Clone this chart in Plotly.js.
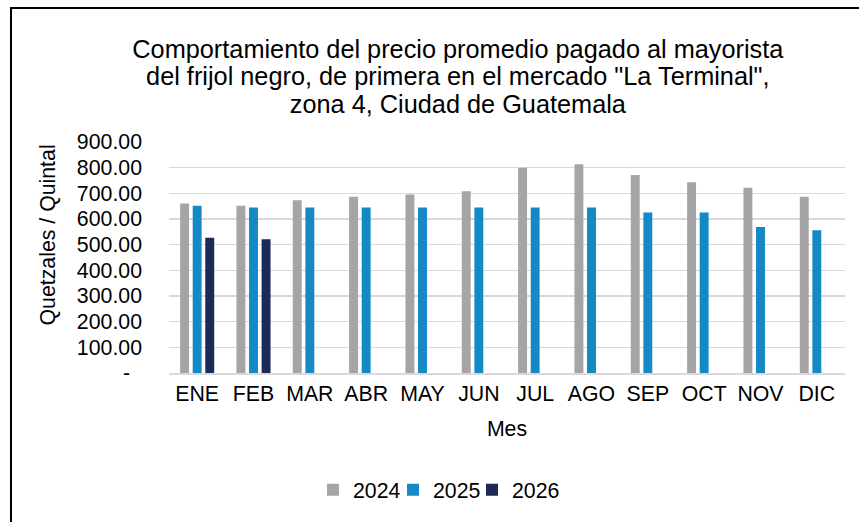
<!DOCTYPE html>
<html>
<head>
<meta charset="utf-8">
<script src="https://cdn.plot.ly/plotly-3.0.1.min.js"></script>
<style>
  html, body { margin: 0; padding: 0; background: #fff; }
  #wrap { position: relative; width: 859px; height: 522px; }
  #chart { width: 859px; height: 522px; }
  #frame { position: absolute; left: 10px; top: 7px; width: 860px; height: 530px;
           border-left: 2px solid #000; border-top: 2px solid #000; pointer-events: none; }
</style>
</head>
<body>
<div id="wrap">
  <div id="chart"></div>
  <div id="frame"></div>
</div>
<script>
const months = ["ENE","FEB","MAR","ABR","MAY","JUN","JUL","AGO","SEP","OCT","NOV","DIC"];
const v2024 = [660, 652, 673, 687, 695, 708, 800, 813, 771, 743, 722, 687];
const v2025 = [652, 645, 645, 645, 645, 645, 645, 645, 625, 625, 569, 556];
const v2026 = [527, 521, null, null, null, null, null, null, null, null, null, null];
const yTickVals = [0,100,200,300,400,500,600,700,800,900];
const yTickText = ["-\u00a0\u00a0","100.00","200.00","300.00","400.00","500.00","600.00","700.00","800.00","900.00"];
const titleLines = [
  'Comportamiento del precio promedio pagado al mayorista',
  'del frijol negro, de primera en el mercado "La Terminal",',
  'zona 4, Ciudad de Guatemala'
];

const FONT = "Liberation Sans, Arial, sans-serif";
const FS = 21.3;

const traces = [
  {type:'bar', name:'2024', x:months, y:v2024, marker:{color:'#a5a5a5'}, legend:'legend'},
  {type:'bar', name:'2025', x:months, y:v2025, marker:{color:'#1589c6'}, legend:'legend2'},
  {type:'bar', name:'2026', x:months, y:v2026, marker:{color:'#1b2a57'}, legend:'legend3'}
];

const legendBase = (x) => ({
  orientation:'h', xref:'paper', yref:'paper', x:x, y:-0.506,
  xanchor:'left', yanchor:'middle', itemwidth:30,
  font:{family:FONT, size:FS, color:'#000'}, bgcolor:'rgba(0,0,0,0)'
});

const layout = {
  width: 859, height: 522,
  margin: {l:169, r:14, t:142, b:149},
  paper_bgcolor:'#fff', plot_bgcolor:'#fff',
  font: {family: FONT, size: FS, color:'#000'},
  barmode:'group', bargap:0.33, bargroupgap:0.29,
  title: {
    text: titleLines.map(s => '<span style="font-size:25.3px">' + s + '</span>').join('<br>'),
    font: {family: FONT, size: 21, color:'#000'},
    xref:'container', x: 0.533, xanchor:'center',
    yref:'container', y: 0.889, yanchor:'top'
  },
  xaxis: {
    type:'category',
    showgrid:false, zeroline:false,
    showline:true, linecolor:'#d9d9d9', linewidth:2,
    ticks:'', tickfont:{family:FONT, size:FS, color:'#000'},
    title:{text:'Mes', font:{family:FONT, size:FS, color:'#000'}, standoff:17}
  },
  yaxis: {
    range:[0,900], tickvals:yTickVals, ticktext:yTickText,
    showgrid:true, gridcolor:'#d9d9d9', gridwidth:1.5,
    zeroline:false, showline:false, ticks:'',
    ticklabelstandoff: 26,
    tickfont:{family:FONT, size:FS, color:'#000'}
  },
  annotations: [{
    text:'Quetzales / Quintal', textangle:-90,
    xref:'paper', yref:'paper', x:(47.5-169)/676, y:(373-235)/231,
    xanchor:'center', yanchor:'middle', showarrow:false,
    font:{family:FONT, size:FS, color:'#000'}
  }],
  showlegend:true,
  legend: legendBase((313-169)/676),
  legend2: legendBase((393-169)/676),
  legend3: legendBase((472-169)/676)
};

Plotly.newPlot('chart', traces, layout, {displayModeBar:false, staticPlot:true});
</script>
</body>
</html>
